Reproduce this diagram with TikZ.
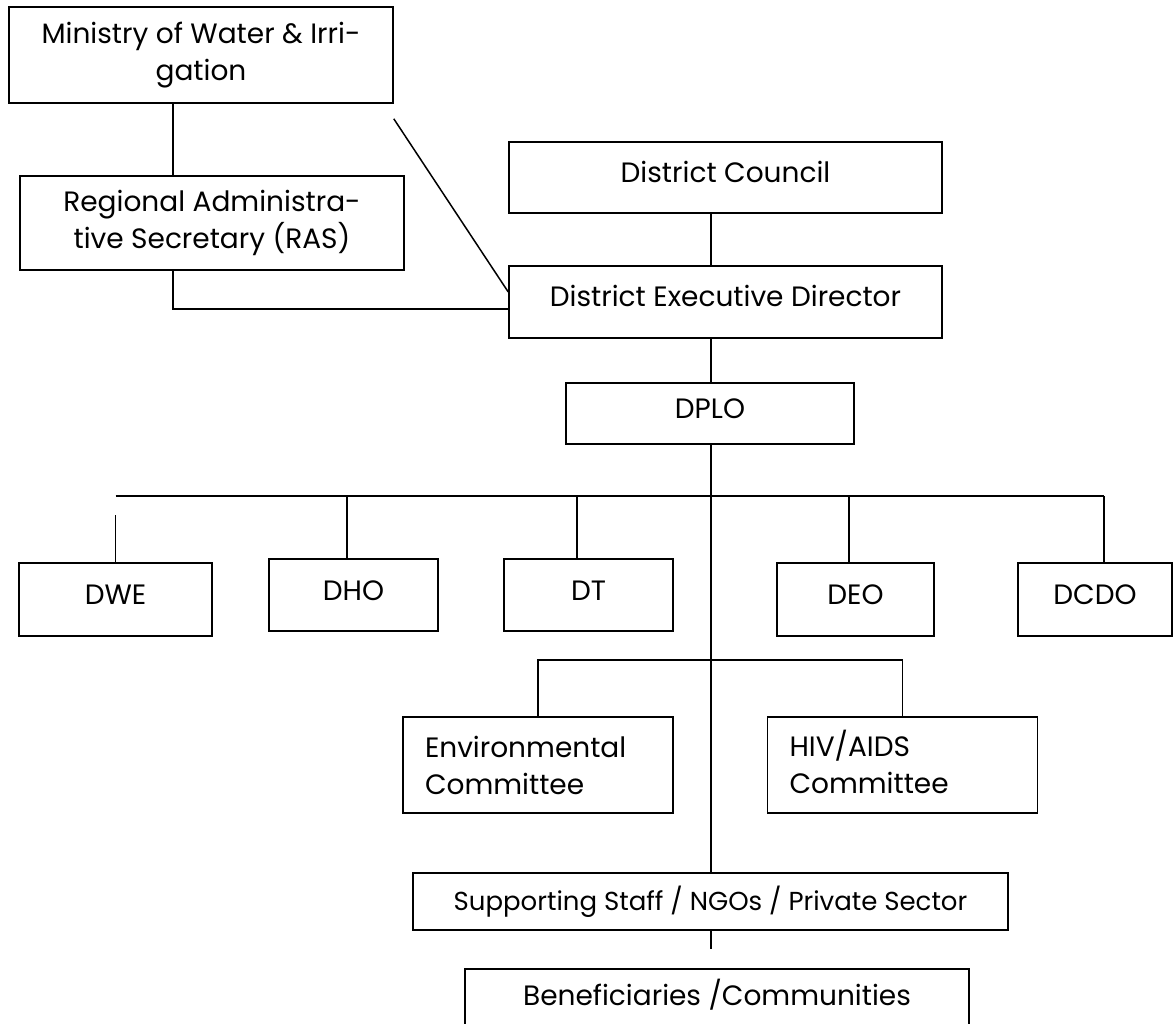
\documentclass[tikz,border=0pt]{standalone}
\usepackage{fontspec}
\setmainfont{Poppins}
\tikzset{
office/.style={draw, inner sep=0pt, align=center, font=\fontsize{28}{37}\selectfont},
twoline/.style 2 args={office, minimum width=#1pt, minimum height=#2pt},
box/.style 2 args={twoline={#1}{#2}, text height=20pt, text depth=10pt},
committee/.style={office, align=left, inner xsep=22pt, text width=226pt, minimum height=96pt}
}
\begin{document}
\begin{tikzpicture}[x=1pt,y=-1pt,line width=1.5pt]
\useasboundingbox (0,0) rectangle (1173,1024);
\clip (0,0) rectangle (1173,1024);
\node[twoline={384}{96}] (ministry) at (201,55) {Ministry of Water \& Irri-\\gation};
\node[twoline={384}{94}] (ras) at (212,223) {Regional Administra-\\tive Secretary (RAS)};
\node[box={433}{71}] (council) at (725.5,177.5) {District Council};
\node[box={433}{72}] (ded) at (725.5,302) {District Executive Director};
\node[box={288}{61}] (dplo) at (710,413.5) {DPLO};
\node[box={193}{73}] (dwe) at (115.5,599.5) {DWE};
\node[box={169}{72}] (dho) at (353.5,595) {DHO};
\node[box={169}{72}] (dt) at (588.5,595) {DT};
\node[box={157}{73}] (deo) at (855.5,599.5) {DEO};
\node[box={154}{73}] (dcdo) at (1095,599.5) {DCDO};
\node[committee] (env) at (538,765) {Environmental\\Committee};
\node[committee] (hiv) at (902.5,765) {\raisebox{0pt}[20.7pt][0pt]{HIV/AIDS}\\Committee};
\node[twoline={595}{57}, font=\fontsize{26}{30}\selectfont] (staff) at (710.5,901.5) {Supporting Staff / NGOs / Private Sector};
\node[box={504}{62}] (benef) at (717,1000) {Beneficiaries /Communities};
\coordinate (rasline) at (173,0);
\coordinate (spine) at (711,0);
\coordinate (bus) at (0,496);
\coordinate (cbus) at (0,660);
\coordinate (dhotop) at ([xshift=-6.5pt]dho.north);
\coordinate (dttop) at ([xshift=-11.5pt]dt.north);
\coordinate (deotop) at ([xshift=-6.5pt]deo.north);
\coordinate (dcdotop) at ([xshift=9pt]dcdo.north);
\draw (ministry.south -| rasline) -- (ras.north -| rasline);
\draw (ras.south -| rasline) |- ([yshift=-7pt]ded.west);
\draw ([yshift=-15pt]ministry.south east) -- ([yshift=10pt]ded.west);
\draw (council.south -| spine) -- (ded.north -| spine);
\draw (ded.south -| spine) -- (dplo.north -| spine);
\draw (dplo.south -| spine) -- (staff.north -| spine);
\foreach \n in {dhotop,dttop,deotop,dcdotop}
  \draw (\n) -- (\n |- bus);
\draw (bus -| dwe.north) -- (bus -| dcdotop);
\draw (dwe.north) -- ++(0,-47);
\draw (env.north) -- (env.north |- cbus) -- (hiv.north |- cbus) -- (hiv.north);
\draw (staff.south -| spine) -- ++(0,18);
\end{tikzpicture}
\end{document}
